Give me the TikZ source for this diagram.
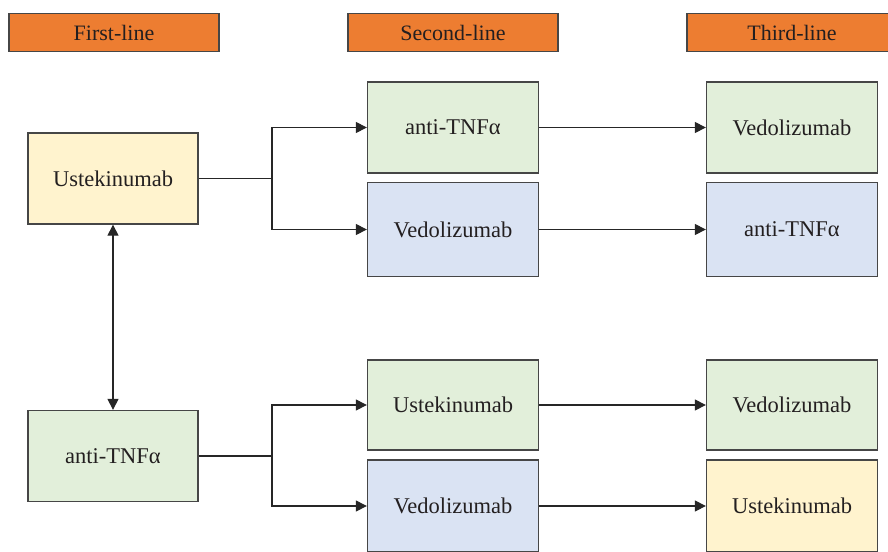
\documentclass[tikz,border=0pt]{standalone}
\usepackage{fontspec}
\setmainfont{Liberation Serif}
\usetikzlibrary{arrows.meta}
\definecolor{hdr}{RGB}{237,125,49}
\definecolor{gfill}{RGB}{226,239,218}
\definecolor{bfill}{RGB}{218,227,243}
\definecolor{yfill}{RGB}{255,243,206}
\definecolor{bord}{RGB}{70,70,70}
\definecolor{txt}{RGB}{35,31,32}
\tikzset{
  hdrbox/.style={draw=bord, line width=1.2pt, fill=hdr, minimum width=210pt, minimum height=38pt, inner sep=0pt, text=txt, font=\fontsize{22}{24}\selectfont},
  drugbox/.style={draw=bord, line width=1.3pt, minimum width=171pt, inner sep=0pt, text=txt, font=\fontsize{22.5}{25}\selectfont},
  gbox/.style={drugbox, fill=gfill},
  bbox/.style={drugbox, fill=bfill},
  ybox/.style={drugbox, fill=yfill},
  conn/.style={draw=black!85, line width=1.1pt},
  arr/.style={conn, -{Triangle[length=11pt, width=11pt]}},
}
\begin{document}
\begin{tikzpicture}[x=1pt, y=-1pt]
\useasboundingbox (0,0) rectangle (888,551);
% headers
\node[hdrbox] (h1) at (114,32.5) {First-line};
\node[hdrbox] (h2) at (453,32.5) {Second-line};
\node[hdrbox] (h3) at (792,32.5) {Third-line};
% first line
\node[ybox, minimum width=170pt, minimum height=91pt] (u1) at (113,178.5) {Ustekinumab};
\node[gbox, minimum width=170pt, minimum height=91pt] (a1) at (113,456) {anti-TNFα};
% second line
\node[gbox, minimum height=91pt] (s1) at (453,127.5) {anti-TNFα};
\node[bbox, minimum height=94pt] (s2) at (453,229.5) {Vedolizumab};
\node[gbox, minimum height=90pt] (s3) at (453,405) {Ustekinumab};
\node[bbox, minimum height=92pt] (s4) at (453,506) {Vedolizumab};
% third line
\node[gbox, minimum height=91pt] (t1) at (792,127.5) {Vedolizumab};
\node[bbox, minimum height=94pt] (t2) at (792,229.5) {anti-TNFα};
\node[gbox, minimum height=90pt] (t3) at (792,405) {Vedolizumab};
\node[ybox, minimum height=92pt] (t4) at (792,506) {Ustekinumab};
% branch points
\coordinate (b1) at (272,178.5);
\coordinate (b2) at (272,456);
% connectors
\draw[conn, {Triangle[length=11pt, width=11pt]}-{Triangle[length=11pt, width=11pt]}] (u1.south) -- (a1.north);
\draw[conn] (u1.east) -- (b1);
\draw[arr] (b1) |- (s1.west);
\draw[arr] (b1) |- (s2.west);
\draw[conn] (a1.east) -- (b2);
\draw[arr] (b2) |- (s3.west);
\draw[arr] (b2) |- (s4.west);
\draw[arr] (s1.east) -- (t1.west);
\draw[arr] (s2.east) -- (t2.west);
\draw[arr] (s3.east) -- (t3.west);
\draw[arr] (s4.east) -- (t4.west);
\end{tikzpicture}
\end{document}
